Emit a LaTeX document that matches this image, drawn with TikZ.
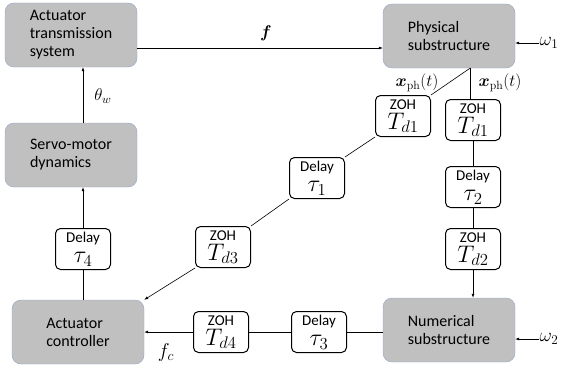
\documentclass[tikz,border=0pt]{standalone}
\usepackage{fix-cm}
\usepackage{amsmath,amssymb}
\usepackage{fontspec}
\setsansfont{Carlito}
\usepackage{tikz}
\usetikzlibrary{arrows.meta}
\definecolor{boxedge}{RGB}{145,165,200}
\definecolor{boxfill}{RGB}{192,192,192}
\newcommand{\blk}[2]{{\sffamily\fontsize{15}{15}\selectfont #1}\\[-4pt]$#2$}

\begin{document}
\begin{tikzpicture}[x=1pt, y=-1pt, line join=round,
    graybox/.style={draw=boxedge, fill=boxfill, rounded corners=9pt, minimum width=132pt, minimum height=64pt, align=left, font=\sffamily\fontsize{16}{18}\selectfont},
    smallbox/.style={draw, line width=1pt, fill=white, rounded corners=5pt, minimum width=55pt, minimum height=41pt, align=center, inner sep=1pt, font=\fontsize{24}{24}\selectfont},
    conn/.style={line width=0.6pt},
    arr/.style={conn, -{Latex[length=4pt,width=3pt]}},
    lab/.style={font=\fontsize{17}{18}\selectfont, inner sep=1pt}]
    \useasboundingbox (0,0) rectangle (561,369);
    % main blocks
    \node[graybox] (ats) at (71,35) {Actuator\\transmission\\system};
    \node[graybox] (servo) at (71,155) {Servo-motor\\dynamics};
    \node[graybox] (ctrl) at (78,332) {Actuator\\controller};
    \node[graybox] (phys) at (449,36) {Physical\\substructure};
    \node[graybox] (num) at (449,330) {Numerical\\substructure};
    % zoh and delay blocks
    \node[smallbox] (td1a) at (403,116) {\blk{ZOH}{T_{d1}}};
    \node[smallbox] (tau1) at (317,178) {\blk{Delay}{\tau_1}};
    \node[smallbox] (td3) at (223,247) {\blk{ZOH}{T_{d3}}};
    \node[smallbox] (td1b) at (473,120) {\blk{ZOH}{T_{d1}}};
    \node[smallbox] (tau2) at (473,187) {\blk{Delay}{\tau_2}};
    \node[smallbox] (td2) at (473,249) {\blk{ZOH}{T_{d2}}};
    \node[smallbox] (tau3) at (319,332) {\blk{Delay}{\tau_3}};
    \node[smallbox] (td4) at (221,332) {\blk{ZOH}{T_{d4}}};
    \node[smallbox] (tau4) at (83,249) {\blk{Delay}{\tau_4}};
    % labels
    \node[lab] (flab) at (266,33) {$\boldsymbol{f}$};
    \node[lab] (thw) at (103,96) {$\theta_w$};
    \node[lab] (xl) at (417,83) {$\boldsymbol{x}_{\mathrm{ph}}(t)$};
    \node[lab] (xr) at (500,83) {$\boldsymbol{x}_{\mathrm{ph}}(t)$};
    \node[lab, font=\fontsize{19}{20}\selectfont] (w1) at (549,43) {$\omega_1$};
    \node[lab, font=\fontsize{19}{20}\selectfont] (w2) at (549,339) {$\omega_2$};
    \node[lab, font=\fontsize{20}{20}\selectfont] (fc) at (166,352) {$f_c$};
    % connectors
    \draw[arr] ([yshift=-13pt]ats.east) -- ([yshift=-13pt]ats.east -| phys.west);
    \draw[arr] ([xshift=12pt]servo.north) -- ([xshift=12pt]ats.south);
    \draw[arr] (tau4.north) -- (tau4.north |- servo.south);
    \draw[conn] (tau4.south |- ctrl.north) -- (tau4.south);
    \coordinate (pout) at ([xshift=21pt]phys.south);
    \draw[conn] (pout) -- (td1a.north east);
    \draw[conn] (td1a.south west) -- (tau1.north east);
    \draw[conn] (tau1.south west) -- (td3.north east);
    \draw[arr] (td3.south west) -- (ctrl.north east);
    \draw[conn] (pout) -- (pout |- td1b.north);
    \draw[conn] (td1b.south) -- (tau2.north);
    \draw[conn] (tau2.south) -- (td2.north);
    \draw[arr] (td2.south) -- (td2.south |- num.north);
    \draw[conn] (tau3.east -| num.west) -- (tau3.east);
    \draw[conn] (tau3.west) -- (td4.east);
    \draw[arr] (td4.west) -- (td4.west -| ctrl.east);
    \draw[arr] (w1.west) -- (w1.west -| phys.east);
    \draw[arr] (w2.west) -- (w2.west -| num.east);
\end{tikzpicture}
\end{document}
